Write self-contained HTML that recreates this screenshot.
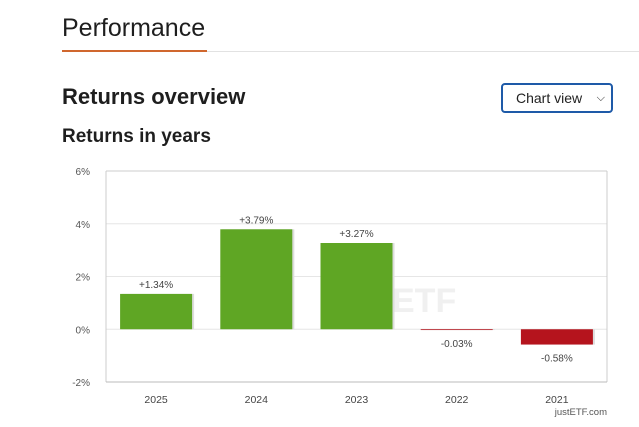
<!DOCTYPE html>
<html><head><meta charset="utf-8"><style>
body{margin:0;width:639px;height:427px;background:#fff;font-family:"Liberation Sans",sans-serif;color:#222;position:relative;overflow:hidden}
.abs{position:absolute}
</style></head><body>
<div class="abs" style="left:62px;top:14px;font-size:25px;color:#1e1e1e">Performance</div>
<div class="abs" style="left:62px;top:50px;width:145px;height:2px;background:#d0672e"></div>
<div class="abs" style="left:207px;top:51px;width:432px;height:1px;background:#e2e2e2"></div>
<div class="abs" style="left:62px;top:84px;font-size:22px;font-weight:bold;color:#1e1e1e">Returns overview</div>
<div class="abs" style="left:501px;top:83px;width:112px;height:30px;border:2px solid #1e5aa8;border-radius:4px;box-sizing:border-box;font-size:14px;line-height:26px;padding-left:13px;color:#222">Chart view <span style="position:absolute;right:6px;top:0;font-size:11px">&#9013;</span></div>
<div class="abs" style="left:62px;top:126px;font-size:19px;font-weight:bold;color:#1e1e1e">Returns in years</div>
<svg class="abs" style="left:0;top:0" width="639" height="427" id="chart"></svg>
<script>
const categories=["2025","2024","2023","2022","2021"];
const values=[1.34,3.79,3.27,-0.03,-0.58];
const labels=["+1.34%","+3.79%","+3.27%","-0.03%","-0.58%"];
const ticks=[6,4,2,0,-2];
const NS="http://www.w3.org/2000/svg";
const svg=document.getElementById('chart');
const L=106,R=607,T=171,B=382,minV=-2,maxV=6;
const y=v=>T+(maxV-v)/(maxV-minV)*(B-T);
const band=(R-L)/categories.length;
const x=i=>L+band*i;
function mk(t,a,txt){const e=document.createElementNS(NS,t);for(const k in a)e.setAttribute(k,a[k]);if(txt!=null)e.textContent=txt;svg.appendChild(e);return e;}
ticks.forEach(t=>{
 const g=mk('line',{x1:L,x2:R,y1:y(t),y2:y(t),stroke:t==maxV?'#ccc':'#e6e6e6'});
 
 
 const lb=mk('text',{x:90,y:y(t)+4,'text-anchor':'end','font-size':10,fill:'#555'},t+'%');
 
 
});
mk('line',{x1:L,x2:L,y1:T,y2:B,stroke:'#ccc'});
mk('line',{x1:R,x2:R,y1:T,y2:B,stroke:'#ccc'});
mk('line',{x1:L,x2:R,y1:B,y2:B,stroke:'#bbb'});
const wm=mk('text',{x:392,y:312,'font-size':34,'font-weight':'bold',fill:'#f0f0f0'},'ETF');


const bw=72;
values.forEach((v,i)=>{
 const cx=x(i)+band/2, y0=y(0), y1=y(v);
 const top=Math.min(y0,y1), h=Math.max(Math.abs(y1-y0),0.5);
 const col=v>=0?'#5fa624':'#b5141d';
 const sh=mk('rect',{x:cx-bw/2+2,y:top,width:bw,height:h,fill:'#ddd'});
 
 
 const r=mk('rect',{x:cx-bw/2,y:top,width:bw,height:h,fill:col});
 
 
 const ly=v>=0?top-6:top+h+17;
 const t=mk('text',{x:cx,y:ly,'text-anchor':'middle','font-size':10,fill:'#444'},labels[i]);
 
 
 const c=mk('text',{x:cx,y:403,'text-anchor':'middle','font-size':10.5,fill:'#444'},categories[i]);
 
 
});
const cr=mk('text',{x:607,y:415,'text-anchor':'end','font-size':9.5,fill:'#555'},'justETF.com');


</script>
</body></html>
